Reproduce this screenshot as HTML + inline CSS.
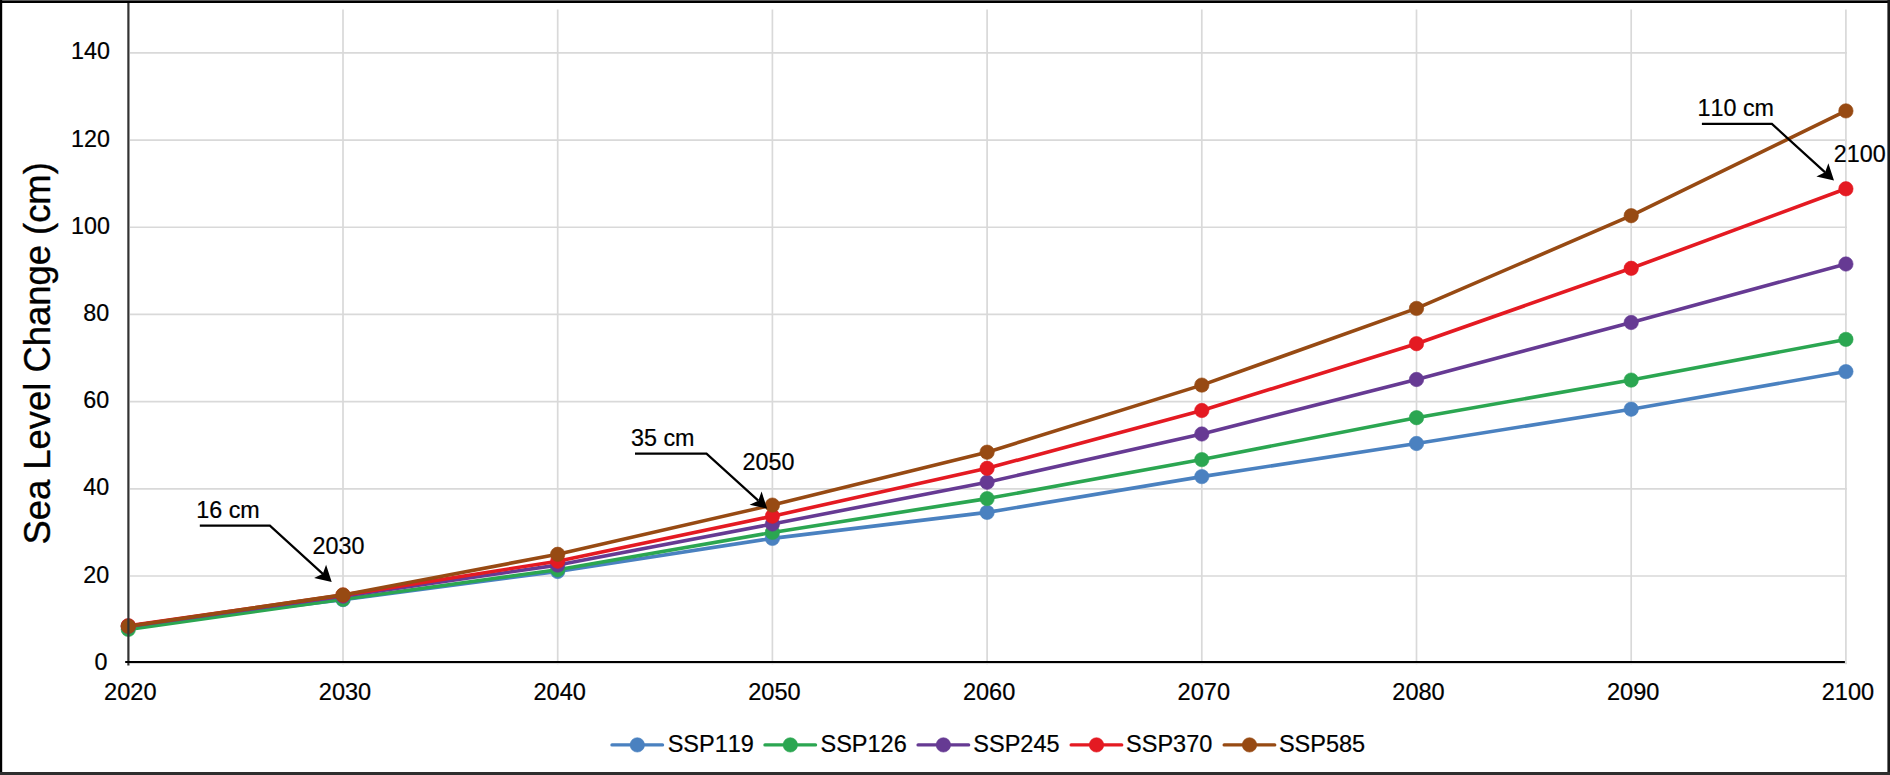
<!DOCTYPE html>
<html lang="en"><head><meta charset="utf-8"><title>Sea Level Change</title>
<style>html,body{margin:0;padding:0;background:#fff;}body{width:1890px;height:775px;overflow:hidden;}svg{display:block;}text{font-family:"Liberation Sans",sans-serif;fill:#000;font-kerning:none;stroke:#000;stroke-width:0.22px;}</style></head><body>
<svg width="1890" height="775" viewBox="0 0 1890 775">
<rect x="0" y="0" width="1890" height="775" fill="#fff"/>
<g stroke="#d9d9d9" stroke-width="1.7" fill="none">
<line x1="130" y1="663.20" x2="1846.90" y2="663.20"/>
<line x1="130" y1="576.01" x2="1846.90" y2="576.01"/>
<line x1="130" y1="488.83" x2="1846.90" y2="488.83"/>
<line x1="130" y1="401.64" x2="1846.90" y2="401.64"/>
<line x1="130" y1="314.46" x2="1846.90" y2="314.46"/>
<line x1="130" y1="227.27" x2="1846.90" y2="227.27"/>
<line x1="130" y1="140.09" x2="1846.90" y2="140.09"/>
<line x1="130" y1="52.90" x2="1846.90" y2="52.90"/>
<line x1="343.00" y1="9.5" x2="343.00" y2="664.20"/>
<line x1="557.70" y1="9.5" x2="557.70" y2="664.20"/>
<line x1="772.40" y1="9.5" x2="772.40" y2="664.20"/>
<line x1="987.10" y1="9.5" x2="987.10" y2="664.20"/>
<line x1="1201.80" y1="9.5" x2="1201.80" y2="664.20"/>
<line x1="1416.50" y1="9.5" x2="1416.50" y2="664.20"/>
<line x1="1631.20" y1="9.5" x2="1631.20" y2="664.20"/>
<line x1="1845.90" y1="9.5" x2="1845.90" y2="664.20"/>
</g>
<g fill="#4a81c0" stroke="#4a81c0"><polyline points="128.30,626.00 343.00,599.60 557.70,571.50 772.40,538.40 987.10,512.40 1201.80,476.60 1416.50,443.50 1631.20,409.20 1845.90,371.60" fill="none" stroke-width="3.6" stroke-linejoin="round" stroke-linecap="round"/>
<circle cx="128.30" cy="626.00" r="7.2" stroke-width="0.6"/>
<circle cx="343.00" cy="599.60" r="7.2" stroke-width="0.6"/>
<circle cx="557.70" cy="571.50" r="7.2" stroke-width="0.6"/>
<circle cx="772.40" cy="538.40" r="7.2" stroke-width="0.6"/>
<circle cx="987.10" cy="512.40" r="7.2" stroke-width="0.6"/>
<circle cx="1201.80" cy="476.60" r="7.2" stroke-width="0.6"/>
<circle cx="1416.50" cy="443.50" r="7.2" stroke-width="0.6"/>
<circle cx="1631.20" cy="409.20" r="7.2" stroke-width="0.6"/>
<circle cx="1845.90" cy="371.60" r="7.2" stroke-width="0.6"/>
</g>
<g fill="#2ba651" stroke="#2ba651"><polyline points="128.30,629.40 343.00,599.30 557.70,569.70 772.40,532.40 987.10,498.60 1201.80,459.60 1416.50,417.70 1631.20,380.10 1845.90,339.40" fill="none" stroke-width="3.6" stroke-linejoin="round" stroke-linecap="round"/>
<circle cx="128.30" cy="629.40" r="7.2" stroke-width="0.6"/>
<circle cx="343.00" cy="599.30" r="7.2" stroke-width="0.6"/>
<circle cx="557.70" cy="569.70" r="7.2" stroke-width="0.6"/>
<circle cx="772.40" cy="532.40" r="7.2" stroke-width="0.6"/>
<circle cx="987.10" cy="498.60" r="7.2" stroke-width="0.6"/>
<circle cx="1201.80" cy="459.60" r="7.2" stroke-width="0.6"/>
<circle cx="1416.50" cy="417.70" r="7.2" stroke-width="0.6"/>
<circle cx="1631.20" cy="380.10" r="7.2" stroke-width="0.6"/>
<circle cx="1845.90" cy="339.40" r="7.2" stroke-width="0.6"/>
</g>
<g fill="#663a93" stroke="#663a93"><polyline points="128.30,626.40 343.00,596.20 557.70,565.10 772.40,524.00 987.10,482.20 1201.80,434.00 1416.50,379.50 1631.20,322.50 1845.90,264.00" fill="none" stroke-width="3.6" stroke-linejoin="round" stroke-linecap="round"/>
<circle cx="128.30" cy="626.40" r="7.2" stroke-width="0.6"/>
<circle cx="343.00" cy="596.20" r="7.2" stroke-width="0.6"/>
<circle cx="557.70" cy="565.10" r="7.2" stroke-width="0.6"/>
<circle cx="772.40" cy="524.00" r="7.2" stroke-width="0.6"/>
<circle cx="987.10" cy="482.20" r="7.2" stroke-width="0.6"/>
<circle cx="1201.80" cy="434.00" r="7.2" stroke-width="0.6"/>
<circle cx="1416.50" cy="379.50" r="7.2" stroke-width="0.6"/>
<circle cx="1631.20" cy="322.50" r="7.2" stroke-width="0.6"/>
<circle cx="1845.90" cy="264.00" r="7.2" stroke-width="0.6"/>
</g>
<g fill="#e41a22" stroke="#e41a22"><polyline points="128.30,625.70 343.00,595.10 557.70,561.20 772.40,516.20 987.10,468.30 1201.80,410.50 1416.50,343.70 1631.20,268.30 1845.90,188.80" fill="none" stroke-width="3.6" stroke-linejoin="round" stroke-linecap="round"/>
<circle cx="128.30" cy="625.70" r="7.2" stroke-width="0.6"/>
<circle cx="343.00" cy="595.10" r="7.2" stroke-width="0.6"/>
<circle cx="557.70" cy="561.20" r="7.2" stroke-width="0.6"/>
<circle cx="772.40" cy="516.20" r="7.2" stroke-width="0.6"/>
<circle cx="987.10" cy="468.30" r="7.2" stroke-width="0.6"/>
<circle cx="1201.80" cy="410.50" r="7.2" stroke-width="0.6"/>
<circle cx="1416.50" cy="343.70" r="7.2" stroke-width="0.6"/>
<circle cx="1631.20" cy="268.30" r="7.2" stroke-width="0.6"/>
<circle cx="1845.90" cy="188.80" r="7.2" stroke-width="0.6"/>
</g>
<g fill="#974a13" stroke="#974a13"><polyline points="128.30,626.30 343.00,594.90 557.70,554.30 772.40,505.10 987.10,452.20 1201.80,385.10 1416.50,308.40 1631.20,215.70 1845.90,110.90" fill="none" stroke-width="3.6" stroke-linejoin="round" stroke-linecap="round"/>
<circle cx="128.30" cy="626.30" r="7.2" stroke-width="0.6"/>
<circle cx="343.00" cy="594.90" r="7.2" stroke-width="0.6"/>
<circle cx="557.70" cy="554.30" r="7.2" stroke-width="0.6"/>
<circle cx="772.40" cy="505.10" r="7.2" stroke-width="0.6"/>
<circle cx="987.10" cy="452.20" r="7.2" stroke-width="0.6"/>
<circle cx="1201.80" cy="385.10" r="7.2" stroke-width="0.6"/>
<circle cx="1416.50" cy="308.40" r="7.2" stroke-width="0.6"/>
<circle cx="1631.20" cy="215.70" r="7.2" stroke-width="0.6"/>
<circle cx="1845.90" cy="110.90" r="7.2" stroke-width="0.6"/>
</g>
<line x1="128.4" y1="2" x2="128.4" y2="665.6" stroke="#333" stroke-width="2.2"/>
<line x1="125.2" y1="662" x2="1844.9" y2="662" stroke="#000" stroke-width="2.2"/>
<g font-size="23.3">
<text x="107.4" y="669.70" text-anchor="end">0</text>
<text x="109.1" y="582.51" text-anchor="end">20</text>
<text x="109.1" y="495.33" text-anchor="end">40</text>
<text x="109.1" y="408.14" text-anchor="end">60</text>
<text x="109.1" y="320.96" text-anchor="end">80</text>
<text x="109.9" y="233.77" text-anchor="end">100</text>
<text x="109.9" y="146.59" text-anchor="end">120</text>
<text x="109.9" y="59.40" text-anchor="end">140</text>
<text x="130.30" y="699.7" text-anchor="middle" font-size="23.55">2020</text>
<text x="345.00" y="699.7" text-anchor="middle" font-size="23.55">2030</text>
<text x="559.70" y="699.7" text-anchor="middle" font-size="23.55">2040</text>
<text x="774.40" y="699.7" text-anchor="middle" font-size="23.55">2050</text>
<text x="989.10" y="699.7" text-anchor="middle" font-size="23.55">2060</text>
<text x="1203.80" y="699.7" text-anchor="middle" font-size="23.55">2070</text>
<text x="1418.50" y="699.7" text-anchor="middle" font-size="23.55">2080</text>
<text x="1633.20" y="699.7" text-anchor="middle" font-size="23.55">2090</text>
<text x="1847.90" y="699.7" text-anchor="middle" font-size="23.55">2100</text>
<text x="196.3" y="517.7">16 cm</text>
<text x="312.6" y="553.8">2030</text>
<text x="631.0" y="446.0">35 cm</text>
<text x="742.6" y="469.5">2050</text>
<text x="1697.6" y="116.0">110 cm</text>
<text x="1833.8" y="162.4">2100</text>
<text x="667.7" y="751.5" font-size="23.5">SSP119</text>
<text x="820.5" y="751.5" font-size="23.5">SSP126</text>
<text x="973.3" y="751.5" font-size="23.5">SSP245</text>
<text x="1126.1" y="751.5" font-size="23.5">SSP370</text>
<text x="1278.9" y="751.5" font-size="23.5">SSP585</text>
</g>
<g fill="#4a81c0" stroke="#4a81c0"><line x1="612.0" y1="744.9" x2="662.5" y2="744.9" stroke-width="3.4" stroke-linecap="round"/><circle cx="637.3" cy="744.9" r="7.2" stroke-width="0.6"/></g>
<g fill="#2ba651" stroke="#2ba651"><line x1="765.0" y1="744.9" x2="815.5" y2="744.9" stroke-width="3.4" stroke-linecap="round"/><circle cx="790.3" cy="744.9" r="7.2" stroke-width="0.6"/></g>
<g fill="#663a93" stroke="#663a93"><line x1="918.1" y1="744.9" x2="968.6" y2="744.9" stroke-width="3.4" stroke-linecap="round"/><circle cx="943.4" cy="744.9" r="7.2" stroke-width="0.6"/></g>
<g fill="#e41a22" stroke="#e41a22"><line x1="1071.2" y1="744.9" x2="1121.7" y2="744.9" stroke-width="3.4" stroke-linecap="round"/><circle cx="1096.5" cy="744.9" r="7.2" stroke-width="0.6"/></g>
<g fill="#974a13" stroke="#974a13"><line x1="1224.2" y1="744.9" x2="1274.7" y2="744.9" stroke-width="3.4" stroke-linecap="round"/><circle cx="1249.5" cy="744.9" r="7.2" stroke-width="0.6"/></g>
<text font-size="37.2" style="stroke-width:0.35px" transform="translate(50.0,353.4) rotate(-90) scale(0.9785,1)" text-anchor="middle">Sea Level Change (cm)</text>
<polyline points="199.8,525.6 269.9,525.6 322.83,573.82" fill="none" stroke="#000" stroke-width="2.2" stroke-linejoin="miter" stroke-linecap="butt"/>
<polygon points="331.70,581.90 314.10,577.91 322.83,573.82 326.09,564.75" fill="#000"/>
<polyline points="635.0,453.6 706.5,453.6 758.31,500.63" fill="none" stroke="#000" stroke-width="2.2" stroke-linejoin="miter" stroke-linecap="butt"/>
<polygon points="767.20,508.70 749.59,504.74 758.31,500.63 761.56,491.56" fill="#000"/>
<polyline points="1701.9,123.9 1771.9,123.9 1825.12,172.32" fill="none" stroke="#000" stroke-width="2.2" stroke-linejoin="miter" stroke-linecap="butt"/>
<polygon points="1834.00,180.40 1816.40,176.42 1825.12,172.32 1828.38,163.25" fill="#000"/>
<rect x="0" y="0" width="1890" height="1" fill="#5a5a5a"/>
<rect x="0" y="1" width="1890" height="2" fill="#000"/>
<rect x="0" y="0" width="2.2" height="775" fill="#000"/>
<rect x="1887.4" y="0" width="2.6" height="775" fill="#1a1a1a"/>
<rect x="0" y="772" width="1890" height="3" fill="#2e2e2e"/>
</svg></body></html>
